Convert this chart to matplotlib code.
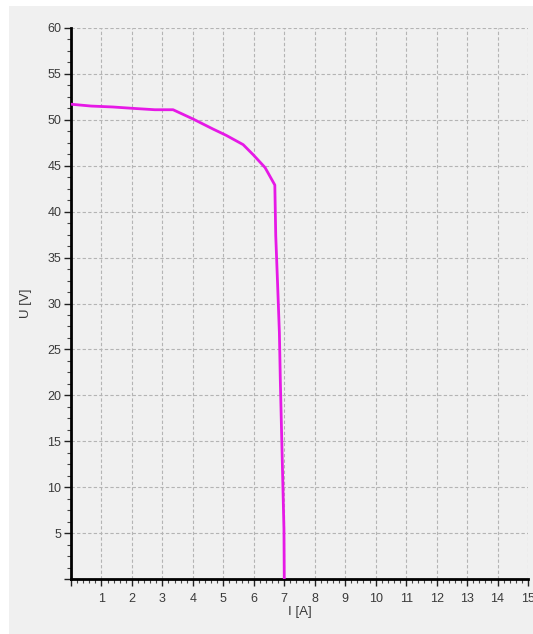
import numpy as np
import matplotlib
matplotlib.use("Agg")
import matplotlib.pyplot as plt
from matplotlib.ticker import MultipleLocator, FuncFormatter
from matplotlib.patches import Rectangle

# current / voltage curve
current = [0.0, 0.66, 1.37, 2.03, 2.75, 3.35, 4.0, 4.66, 5.1, 5.65, 5.98, 6.37, 6.69,
           6.72, 6.78, 6.84, 6.87, 6.91, 6.95, 6.99, 7.0]
voltage = [51.7, 51.5, 51.4, 51.25, 51.1, 51.1, 50.1, 49.0, 48.3, 47.3, 46.2, 44.8, 42.9,
           37.4, 32.2, 26.8, 21.7, 16.2, 10.8, 5.4, 0.0]

x_ticks = list(range(0, 16))
y_ticks = list(range(0, 61, 5))

plt.rcParams['font.family'] = ['Liberation Sans', 'DejaVu Sans']

fig = plt.figure(figsize=(5.33, 6.34), dpi=100, facecolor='white')
# grey panel behind the plot, white strip left and top
fig.patches.append(Rectangle((9/533, 0), 1, 1 - 6/634, transform=fig.transFigure,
                             facecolor='#f0f0f0', edgecolor='none', zorder=-10))

ax = fig.add_axes([71/533, 1 - 579/634, 457/533, 551/634])
ax.set_facecolor('none')

ax.plot(current, voltage, color='#e619e6', lw=2.0, solid_joinstyle='round', zorder=3)

ax.set_xlim(0, 15)
ax.set_ylim(0, 60)
ax.set_xticks(x_ticks)
ax.set_yticks(y_ticks)
ax.xaxis.set_minor_locator(MultipleLocator(0.2))
ax.yaxis.set_minor_locator(MultipleLocator(1.25))
ax.xaxis.set_major_formatter(FuncFormatter(lambda v, p: '' if v == 0 else '%d' % v))
ax.yaxis.set_major_formatter(FuncFormatter(lambda v, p: '' if v == 0 else '%d' % v))

for s in ['top', 'right']:
    ax.spines[s].set_visible(False)
for s in ['left', 'bottom']:
    ax.spines[s].set_linewidth(2)
    ax.spines[s].set_color('black')

ax.tick_params(which='major', direction='out', length=5, width=1, color='#222222',
               labelsize=9, labelcolor='#3a3a3a', pad=2)
ax.tick_params(which='minor', direction='out', length=3, width=0.8, color='#444444')
ax.tick_params(axis='x', pad=5)

ax.grid(True, which='major', linestyle=(0, (3, 2)), color='#b4b4b4', lw=0.8)
ax.set_axisbelow(True)

ax.set_xlabel('I [A]', fontsize=9.5, color='#3a3a3a', labelpad=1)
ax.set_ylabel('U [V]', fontsize=9.5, color='#3a3a3a', labelpad=11)

fig.savefig('out.png', dpi=100, facecolor='white')
